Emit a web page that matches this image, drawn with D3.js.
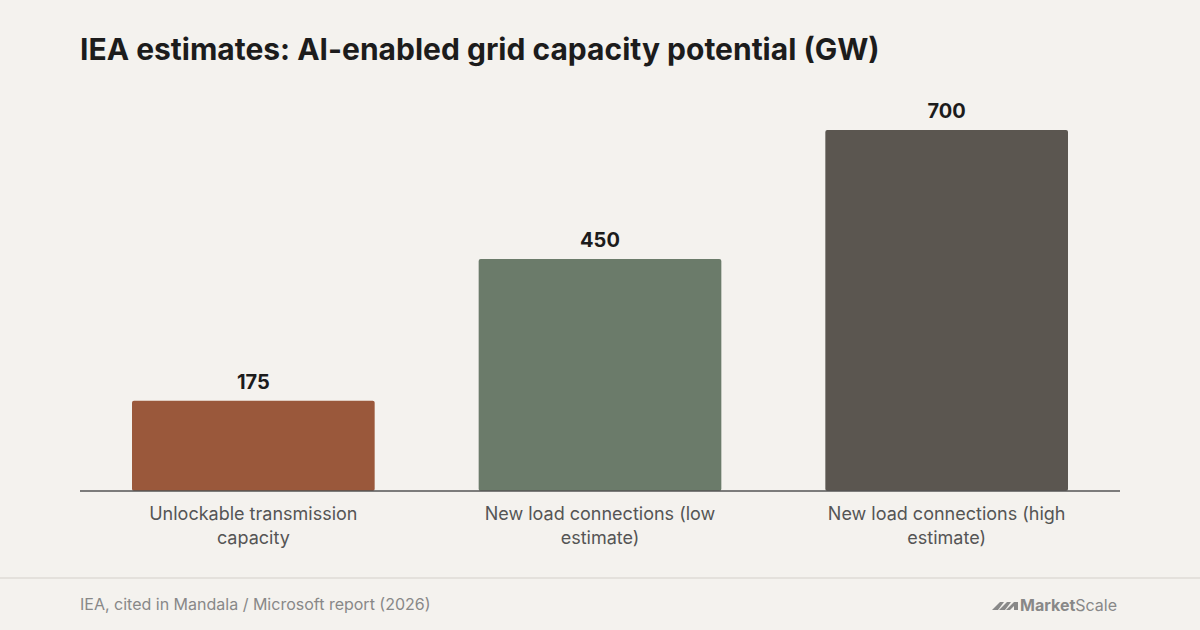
<!DOCTYPE html>
<html lang="en">
<head>
<meta charset="UTF-8">
<script src="https://d3js.org/d3.v7.min.js"></script>
<style>
  body { margin: 0; background: #f4f2ee; font-family: Inter, "Open Sans", sans-serif; }
</style>
</head>
<body>
<svg width="1200" height="630"></svg>
<script>
// Chart data
let categories = ["Unlockable transmission capacity", "New load connections (low estimate)", "New load connections (high estimate)"];
let labelLines = [["Unlockable transmission", "capacity"], ["New load connections (low", "estimate)"], ["New load connections (high", "estimate)"]];
let values = [175, 450, 700];
let colors = ["#9a583b", "#6b7b6a", "#5b5650"];

let width = 1200, height = 630;
let margin = { left: 80, right: 80, top: 130, bottom: 139 };

let svg = d3.select("svg").style("background", "#f4f2ee");

svg.append("text")
    .attr("x", 80).attr("y", 60)
    .attr("font-size", 30).attr("font-weight", 700)
    .attr("fill", "#1c1c1c")
    .text("IEA estimates: AI-enabled grid capacity potential (GW)");

let xscale = d3.scaleBand()
    .domain(categories)
    .range([margin.left, width - margin.right])
    .paddingInner(0.3).paddingOuter(0.15);

let yscale = d3.scaleLinear()
    .domain([0, 700])
    .range([height - margin.bottom, margin.top]);

// bars
svg.selectAll("rect.bar")
    .data(values)
    .enter().append("rect")
    .attr("class", "bar")
    .attr("x", (d, i) => xscale(categories[i]))
    .attr("y", d => yscale(d))
    .attr("width", xscale.bandwidth())
    .attr("height", d => yscale(0) - yscale(d))
    .attr("rx", 2)
    .attr("fill", (d, i) => colors[i]);

// value labels
svg.selectAll("text.val")
    .data(values)
    .enter().append("text")
    .attr("x", (d, i) => xscale(categories[i]) + xscale.bandwidth() / 2)
    .attr("y", d => yscale(d) - 12)
    .attr("text-anchor", "middle")
    .attr("font-size", 20).attr("font-weight", 700)
    .attr("fill", "#1c1c1c")
    .text(d => d);

// baseline
svg.append("line")
    .attr("x1", margin.left).attr("x2", width - margin.right)
    .attr("y1", yscale(0)).attr("y2", yscale(0))
    .attr("stroke", "#555").attr("stroke-width", 1.5);

// category labels
categories.forEach(function (c, i) {
    let t = svg.append("text")
        .attr("x", xscale(c) + xscale.bandwidth() / 2)
        .attr("y", yscale(0) + 29)
        .attr("text-anchor", "middle")
        .attr("font-size", 18).attr("fill", "#555");
    labelLines[i].forEach((l, j) => {
        t.append("tspan")
            .attr("x", xscale(c) + xscale.bandwidth() / 2)
            .attr("dy", j === 0 ? 0 : 24)
            .text(l);
    });
});

// footer
svg.append("line")
    .attr("x1", 0).attr("x2", width).attr("y1", 578).attr("y2", 578)
    .attr("stroke", "#e4e1dc").attr("stroke-width", 2);

svg.append("text")
    .attr("x", 80).attr("y", 610)
    .attr("font-size", 16).attr("fill", "#888")
    .text("IEA, cited in Mandala / Microsoft report (2026)");

let logo = svg.append("g").attr("transform", "translate(992,598)");
logo.append("path")
    .attr("d", "M0,12 L8,4 L12,4 L6,12 Z M7,12 L15,4 L19,4 L13,12 Z M14,12 L22,4 L26,4 L26,12 L22,12 L22,8 L18,12 Z")
    .attr("fill", "#888");
let lt = logo.append("text").attr("x", 28).attr("y", 13)
    .attr("font-size", 16).attr("fill", "#888");
lt.append("tspan").attr("font-weight", 700).text("Market");
lt.append("tspan").attr("font-weight", 400).text("Scale");
</script>
</body>
</html>
